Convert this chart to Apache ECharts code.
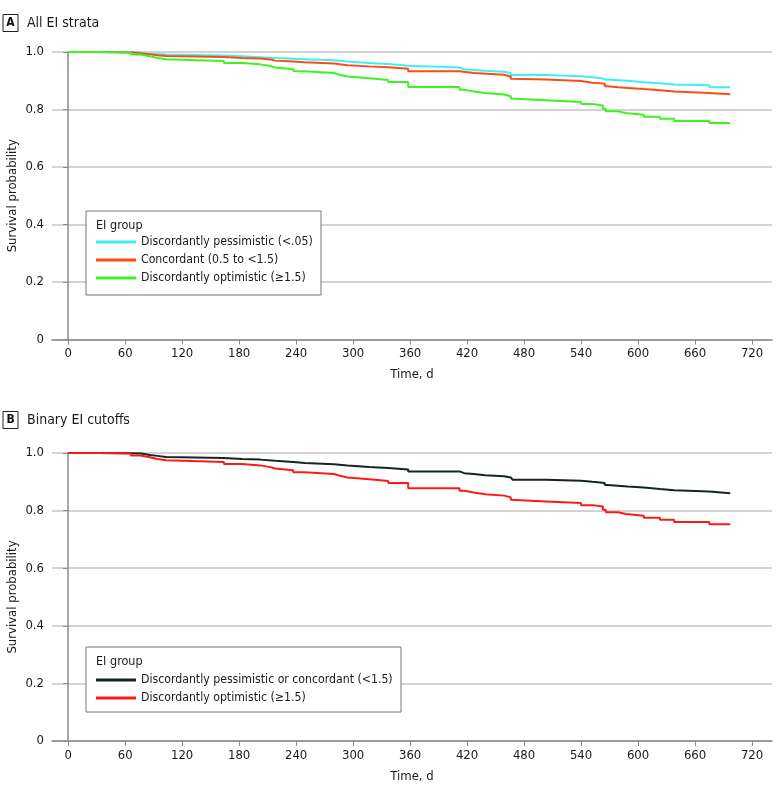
<!DOCTYPE html>
<html>
<head>
<meta charset="utf-8">
<script src="https://cdn.jsdelivr.net/npm/echarts@6/dist/echarts.min.js"></script>
<style>
  html, body { margin: 0; padding: 0; background: #fff; }
  #app { width: 780px; height: 798px; }
</style>
</head>
<body>
<div id="app"></div>
<script>
// tick labels
const timeTicks = [0, 60, 120, 180, 240, 300, 360, 420, 480, 540, 600, 660, 720]

// panel A: all EI strata
const timesPessimistic = [0, 32, 68, 77, 86, 103, 164, 183, 202, 218, 249, 280, 294, 317, 337, 358, 412, 417, 439, 459, 466, 503, 540, 552, 563, 566, 589, 606, 623, 638, 675, 697]
const survPessimistic = [1.0, 0.999, 0.997, 0.994, 0.991, 0.988, 0.985, 0.982, 0.979, 0.975, 0.971, 0.967, 0.962, 0.958, 0.952, 0.946, 0.940, 0.935, 0.931, 0.927, 0.920, 0.916, 0.912, 0.908, 0.904, 0.900, 0.895, 0.891, 0.887, 0.884, 0.877, 0.877]

const timesConcordant = [0, 32, 68, 77, 86, 94, 103, 164, 183, 202, 213, 218, 237, 249, 280, 286, 294, 317, 337, 358, 412, 427, 459, 466, 468, 503, 540, 552, 565, 568, 579, 589, 606, 620, 638, 675, 697]
const survConcordant = [1.0, 0.998, 0.995, 0.992, 0.989, 0.986, 0.983, 0.979, 0.977, 0.974, 0.970, 0.967, 0.964, 0.960, 0.957, 0.954, 0.950, 0.947, 0.942, 0.933, 0.927, 0.921, 0.915, 0.907, 0.904, 0.899, 0.893, 0.890, 0.881, 0.877, 0.875, 0.871, 0.868, 0.863, 0.857, 0.853, 0.853]

// optimistic group is the same in both panels
const timesOptimistic = [0, 32, 66, 76, 86, 94, 103, 164, 183, 202, 213, 218, 237, 249, 280, 286, 294, 317, 337, 358, 412, 417, 427, 439, 459, 466, 468, 503, 540, 552, 563, 566, 579, 587, 606, 623, 638, 675, 697]
const survOptimistic = [1.0, 0.998, 0.991, 0.985, 0.979, 0.975, 0.969, 0.962, 0.957, 0.951, 0.946, 0.940, 0.933, 0.927, 0.921, 0.915, 0.909, 0.903, 0.896, 0.878, 0.869, 0.863, 0.857, 0.852, 0.846, 0.838, 0.832, 0.826, 0.819, 0.814, 0.803, 0.794, 0.788, 0.782, 0.775, 0.768, 0.760, 0.753, 0.753]

// panel B: binary cutoff, pessimistic or concordant
const timesBelow = [0, 32, 66, 77, 86, 94, 103, 164, 183, 202, 218, 237, 249, 280, 294, 317, 337, 358, 412, 417, 427, 439, 459, 466, 468, 503, 540, 552, 565, 568, 589, 606, 623, 638, 675, 697]
const survBelow = [1.0, 0.9995, 0.998, 0.993, 0.990, 0.986, 0.983, 0.979, 0.977, 0.973, 0.969, 0.965, 0.961, 0.957, 0.951, 0.948, 0.943, 0.936, 0.930, 0.927, 0.923, 0.919, 0.915, 0.910, 0.907, 0.904, 0.900, 0.896, 0.889, 0.884, 0.880, 0.875, 0.871, 0.866, 0.860, 0.860]

const FONT = "'DejaVu Sans Condensed', 'Liberation Sans Narrow', sans-serif"
const TXT = '#1a1a1a'

function pairs(t, s) {
    return t.map((x, i) => [x, s[i]])
}

function xAxisFor(idx) {
    return {
        type: 'value', gridIndex: idx, min: -17, max: 741,
        name: 'Time, d', nameLocation: 'middle', nameGap: 29, nameMoveOverlap: false,
        nameTextStyle: {fontFamily: FONT, fontSize: 13, color: TXT},
        axisLine: {lineStyle: {color: '#8a8a8a', width: 1.5}},
        axisTick: {show: true, length: 5, customValues: timeTicks, lineStyle: {color: '#8a8a8a'}},
        axisLabel: {customValues: timeTicks, margin: 8, fontFamily: FONT, fontSize: 13, color: TXT},
        splitLine: {show: false}
    }
}

function yAxisFor(idx) {
    return {
        type: 'value', gridIndex: idx, min: 0, max: 1, interval: 0.2,
        name: 'Survival probability', nameLocation: 'middle', nameGap: 33, nameMoveOverlap: false,
        nameTextStyle: {fontFamily: FONT, fontSize: 13, color: TXT},
        axisLine: {show: true, lineStyle: {color: '#8a8a8a', width: 1.5}},
        axisTick: {show: true, length: 5, lineStyle: {color: '#8a8a8a'}},
        axisLabel: {
            margin: 8, fontFamily: FONT, fontSize: 13, color: TXT,
            formatter: v => v === 0 ? '0' : v.toFixed(1)
        },
        splitLine: {lineStyle: {color: '#c4c4c4', width: 1.5}}
    }
}

function km(name, t, s, color, idx) {
    return {
        name: name, type: 'line', step: 'end', xAxisIndex: idx, yAxisIndex: idx,
        data: pairs(t, s), showSymbol: false, silent: true,
        lineStyle: {color: color, width: 2}, itemStyle: {color: color}
    }
}

function panelTitle(letter, text, cy) {
    return [
        {type: 'rect', shape: {x: 3, y: cy - 8.5, width: 15, height: 17},
         style: {fill: '#fff', stroke: '#222', lineWidth: 1}},
        {type: 'text', x: 10.5, y: cy, style: {text: letter, fontFamily: FONT, fontSize: 12,
         fontWeight: 'bold', fill: '#111', align: 'center', verticalAlign: 'middle'}},
        {type: 'text', x: 27, y: cy, style: {text: text, fontFamily: FONT, fontSize: 14,
         fill: TXT, verticalAlign: 'middle'}}
    ]
}

function legendBox(x, y, w, h) {
    return [
        {type: 'rect', shape: {x: x, y: y, width: w, height: h},
         style: {fill: '#fff', stroke: '#777', lineWidth: 1}, z: 5},
        {type: 'text', x: x + 10, y: y + 15, z: 6,
         style: {text: 'EI group', fontFamily: FONT, fontSize: 12.5, fill: TXT, verticalAlign: 'middle'}}
    ]
}

const legendCommon = {
    orient: 'vertical', icon: 'rect', itemWidth: 40, itemHeight: 3, itemGap: 3,
    selectedMode: false, padding: 0, z: 10,
    textStyle: {fontFamily: FONT, fontSize: 12.2, color: TXT, lineHeight: 15}
}

const myCharts = echarts.init(document.getElementById('app'), null, {renderer: 'canvas'})
const option = {
    animation: false,
    backgroundColor: '#fff',
    grid: [
        {left: 52, top: 52, width: 720, height: 287.5, outerBoundsMode: 'none', containLabel: false},
        {left: 52, top: 453, width: 720, height: 288, outerBoundsMode: 'none', containLabel: false}
    ],
    xAxis: [xAxisFor(0), xAxisFor(1)],
    yAxis: [yAxisFor(0), yAxisFor(1)],
    legend: [
        Object.assign({}, legendCommon, {left: 96, top: 234.5,
            data: ['Discordantly pessimistic (<.05)', 'Concordant (0.5 to <1.5)', 'Discordantly optimistic (≥1.5)']}),
        Object.assign({}, legendCommon, {left: 96, top: 672.5,
            data: ['Discordantly pessimistic or concordant (<1.5)', 'Discordantly optimistic (≥1.5) ']})
    ],
    series: [
        km('Discordantly pessimistic (<.05)', timesPessimistic, survPessimistic, '#3ef0f4', 0),
        km('Concordant (0.5 to <1.5)', timesConcordant, survConcordant, '#ff4a14', 0),
        km('Discordantly optimistic (≥1.5)', timesOptimistic, survOptimistic, '#3cf51e', 0),
        km('Discordantly pessimistic or concordant (<1.5)', timesBelow, survBelow, '#152424', 1),
        km('Discordantly optimistic (≥1.5) ', timesOptimistic, survOptimistic, '#ff1818', 1)
    ],
    graphic: [].concat(
        panelTitle('A', 'All EI strata', 23),
        panelTitle('B', 'Binary EI cutoffs', 420),
        legendBox(86, 211, 235, 84),
        legendBox(86, 647, 315, 65)
    )
}
myCharts.setOption(option)
</script>
</body>
</html>
